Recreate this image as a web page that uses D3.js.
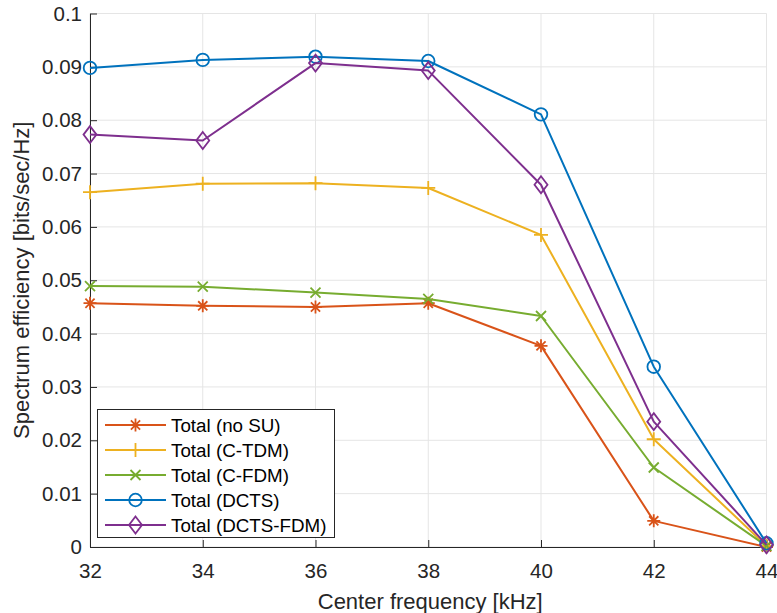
<!DOCTYPE html>
<html>
<head>
<meta charset="utf-8">
<script src="https://cdn.jsdelivr.net/npm/d3@7/dist/d3.min.js"></script>
<style>
  html, body { margin: 0; padding: 0; background: #fff; }
  svg { display: block; font-family: "Liberation Sans", Arial, Helvetica, sans-serif; }
</style>
</head>
<body>
<svg id="chart" width="777" height="613"></svg>
<script>
// Center frequencies (kHz)
const freqs = [32, 34, 36, 38, 40, 42, 44];

// Spectrum efficiency per scheme [bits/sec/Hz]
const noSU    = [0.0457, 0.0452, 0.0450, 0.0457, 0.0377, 0.0049, 0.0000];
const cTDM    = [0.0665, 0.0681, 0.0682, 0.0673, 0.0585, 0.0202, 0.0002];
const cFDM    = [0.0489, 0.0488, 0.0477, 0.0465, 0.0433, 0.0149, 0.0002];
const dcts    = [0.0898, 0.0913, 0.0919, 0.0911, 0.0811, 0.0338, 0.0007];
const dctsFDM = [0.0773, 0.0762, 0.0907, 0.0893, 0.0679, 0.0235, 0.0004];

const seriesNames = ["Total (no SU)", "Total (C-TDM)", "Total (C-FDM)", "Total (DCTS)", "Total (DCTS-FDM)"];
const seriesValues = [noSU, cTDM, cFDM, dcts, dctsFDM];
const seriesColors = ["#D95319", "#EDB120", "#77AC30", "#0072BD", "#7E2F8E"];
const seriesMarkers = ["asterisk", "plus", "cross", "circle", "diamond"];

const xTicks = [32, 34, 36, 38, 40, 42, 44];
const yTicks = [0, 0.01, 0.02, 0.03, 0.04, 0.05, 0.06, 0.07, 0.08, 0.09, 0.1];
const yTickLabels = ["0", "0.01", "0.02", "0.03", "0.04", "0.05", "0.06", "0.07", "0.08", "0.09", "0.1"];

const xLabel = "Center frequency [kHz]";
const yLabel = "Spectrum efficiency [bits/sec/Hz]";

const margin = { left: 90, right: 10.5, top: 13.5, bottom: 66 };
const W = 777, H = 613;
const axisColor = "#262626";
const gridColor = "#e5e5e5";

const svg = d3.select("#chart");
const x = d3.scaleLinear().domain([32, 44]).range([margin.left, W - margin.right]);
const y = d3.scaleLinear().domain([0, 0.1]).range([H - margin.bottom, margin.top]);

// Grid
const grid = svg.append("g");
grid.selectAll("line.gx").data(xTicks).join("line")
  .attr("x1", d => x(d)).attr("x2", d => x(d))
  .attr("y1", y(0)).attr("y2", y(0.1))
  .attr("stroke", gridColor).attr("stroke-width", 1);
grid.selectAll("line.gy").data(yTicks).join("line")
  .attr("x1", x(32)).attr("x2", x(44))
  .attr("y1", d => y(d)).attr("y2", d => y(d))
  .attr("stroke", gridColor).attr("stroke-width", 1);

// Axes (inward ticks)
const xAxis = d3.axisBottom(x).tickValues(xTicks).tickFormat(d3.format("d")).tickSizeInner(-7).tickSizeOuter(0).tickPadding(16);
const yAxis = d3.axisLeft(y).tickValues(yTicks).tickFormat((d, i) => yTickLabels[i]).tickSizeInner(-7).tickSizeOuter(0).tickPadding(8);

const gx = svg.append("g").attr("transform", `translate(0,${y(0)})`).call(xAxis);
const gy = svg.append("g").attr("transform", `translate(${x(32)},0)`).call(yAxis);
[gx, gy].forEach(g => {
  g.select(".domain").attr("stroke", axisColor).attr("stroke-width", 1);
  g.selectAll(".tick line").attr("stroke", axisColor).attr("stroke-width", 1);
  g.selectAll(".tick text").attr("fill", axisColor).style("font-size", "20.5px").style("font-family", "'Liberation Sans', Arial, sans-serif");
});

// Axis labels
svg.append("text")
  .attr("x", (x(32) + x(44)) / 2 + 2).attr("y", 609)
  .attr("text-anchor", "middle").attr("fill", axisColor)
  .style("font-size", "22px").text(xLabel);
svg.append("text")
  .attr("transform", `translate(29,${(y(0) + y(0.1)) / 2}) rotate(-90)`)
  .attr("text-anchor", "middle").attr("fill", axisColor)
  .style("font-size", "22px").text(yLabel);

// Marker drawing
function drawMarker(g, type, cx, cy, color) {
  const sw = 1.8;
  if (type === "circle") {
    g.append("circle").attr("cx", cx).attr("cy", cy).attr("r", 6.3)
      .attr("fill", "none").attr("stroke", color).attr("stroke-width", sw);
  } else if (type === "diamond") {
    const hw = 6.5, hh = 8.5;
    g.append("path").attr("d", `M${cx},${cy - hh}L${cx + hw},${cy}L${cx},${cy + hh}L${cx - hw},${cy}Z`)
      .attr("fill", "none").attr("stroke", color).attr("stroke-width", sw);
  } else if (type === "plus") {
    const s = 7;
    g.append("path").attr("d", `M${cx - s},${cy}L${cx + s},${cy}M${cx},${cy - s}L${cx},${cy + s}`)
      .attr("stroke", color).attr("stroke-width", sw);
  } else if (type === "cross") {
    const s = 5;
    g.append("path").attr("d", `M${cx - s},${cy - s}L${cx + s},${cy + s}M${cx - s},${cy + s}L${cx + s},${cy - s}`)
      .attr("stroke", color).attr("stroke-width", sw);
  } else if (type === "asterisk") {
    const s = 6.5, d = 4.6;
    g.append("path").attr("d",
      `M${cx - s},${cy}L${cx + s},${cy}M${cx},${cy - s}L${cx},${cy + s}` +
      `M${cx - d},${cy - d}L${cx + d},${cy + d}M${cx - d},${cy + d}L${cx + d},${cy - d}`)
      .attr("stroke", color).attr("stroke-width", sw);
  }
}

// Series lines + markers
const line = d3.line().x((d, i) => x(freqs[i])).y(d => y(d));
seriesValues.forEach((vals, k) => {
  const g = svg.append("g");
  g.append("path").datum(vals).attr("d", line)
    .attr("fill", "none").attr("stroke", seriesColors[k]).attr("stroke-width", 2)
    .attr("stroke-linejoin", "round");
  vals.forEach((v, i) => drawMarker(g, seriesMarkers[k], x(freqs[i]), y(v), seriesColors[k]));
});

// Legend
const leg = svg.append("g");
const lx = 97.5, ly = 409.5, lw = 237, lh = 128;
leg.append("rect").attr("x", lx).attr("y", ly).attr("width", lw).attr("height", lh)
  .attr("fill", "#fff").attr("stroke", axisColor).attr("stroke-width", 1);
seriesNames.forEach((name, k) => {
  const cy = 425 + k * 25;
  leg.append("line").attr("x1", 105).attr("x2", 166).attr("y1", cy).attr("y2", cy)
    .attr("stroke", seriesColors[k]).attr("stroke-width", 2);
  drawMarker(leg, seriesMarkers[k], 135.5, cy, seriesColors[k]);
  leg.append("text").attr("x", 171).attr("y", cy).attr("dy", "0.35em")
    .attr("fill", "#000").style("font-size", "18.8px").text(name);
});
</script>
</body>
</html>
